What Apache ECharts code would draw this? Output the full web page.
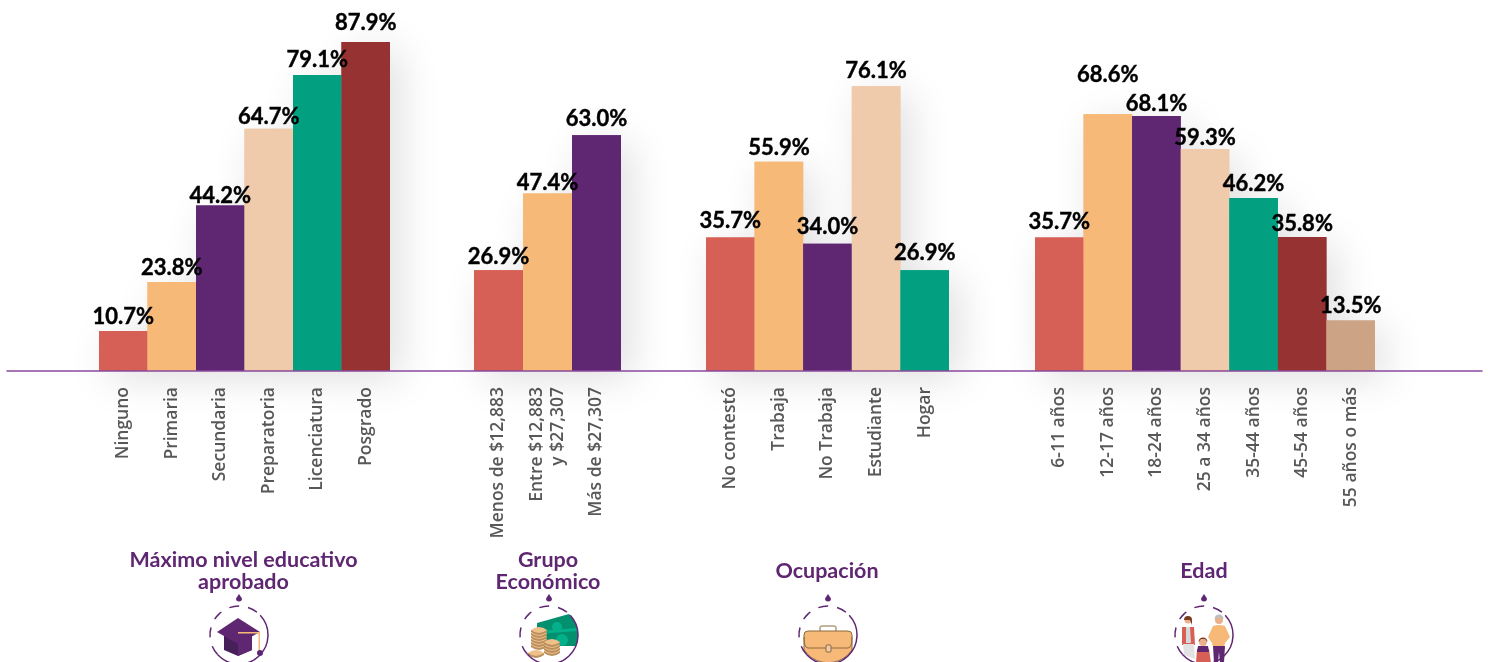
<!DOCTYPE html>
<html>
<head>
<meta charset="utf-8">
<style>
  html, body { margin: 0; padding: 0; background: #fff; }
  #chart { width: 1488px; height: 662px; }
</style>
<script src="https://cdn.jsdelivr.net/npm/echarts@6/dist/echarts.min.js"></script>
</head>
<body>
<div id="chart"></div>
<script>
var eduCats = ['Ninguno', 'Primaria', 'Secundaria', 'Preparatoria', 'Licenciatura', 'Posgrado'];
var eduVals = [10.7, 23.8, 44.2, 64.7, 79.1, 87.9];
var ecoCats = ['Menos de $12,883', 'Entre $12,883\ny $27,307', 'Más de $27,307'];
var ecoVals = [26.9, 47.4, 63.0];
var ocuCats = ['No contestó', 'Trabaja', 'No Trabaja', 'Estudiante', 'Hogar'];
var ocuVals = [35.7, 55.9, 34.0, 76.1, 26.9];
var ageCats = ['6-11 años', '12-17 años', '18-24 años', '25 a 34 años', '35-44 años', '45-54 años', '55 años o más'];
var ageVals = [35.7, 68.6, 68.1, 59.3, 46.2, 35.8, 13.5];

var palette = ['#D65F56', '#F6B977', '#5F2672', '#EFCAAB', '#02A081', '#963232', '#CCA384'];
var purple = '#5F2672';
var font = 'Lato, "Open Sans", sans-serif';
var tickFont = '"Open Sans", Lato, sans-serif';

// x range of each block of bars, nudge = hand moved labels (the original avoids overlaps this way)
var blocks = [
    {cats: eduCats, vals: eduVals, left: 99, right: 390, nudge: [1, 1, 5, 3, 0, -4]},
    {cats: ecoCats, vals: ecoVals, left: 474, right: 621, nudge: [2, 4, -1]},
    {cats: ocuCats, vals: ocuVals, left: 706, right: 949, nudge: [-1, 1, -2, 0, -2]},
    {cats: ageCats, vals: ageVals, left: 1035, right: 1375, nudge: [0, -24, 3, 4, 1, 2, 0]}
];

var grids = [], xAxes = [], yAxes = [], series = [];

blocks.forEach(function (b, i) {
    grids.push({left: b.left, width: b.right - b.left, top: 42, height: 329});
    xAxes.push({
        type: 'category',
        gridIndex: i,
        data: b.cats,
        axisLine: {show: false},
        axisTick: {show: false},
        axisLabel: {
            interval: 0,
            rotate: 90,
            margin: 16,
            fontFamily: tickFont,
            fontSize: 17.5,
            lineHeight: 21,
            fontWeight: 600,
            color: '#58585A'
        }
    });
    yAxes.push({type: 'value', gridIndex: i, min: 0, max: 87.9, show: false, splitLine: {show: false}});
    var shadowData = b.vals.map(function (v, k) {
        return {value: v, itemStyle: {color: palette[k]}};
    });
    var barData = b.vals.map(function (v, k) {
        return {value: v, itemStyle: {color: palette[k]}, label: {offset: [0, b.nudge[k]]}};
    });
    // soft shadow sits in its own series so it never falls on a neighbouring bar
    series.push({
        type: 'bar',
        xAxisIndex: i,
        yAxisIndex: i,
        data: shadowData,
        barWidth: '100%',
        barGap: '-100%',
        z: 1,
        silent: true,
        itemStyle: {shadowColor: 'rgba(0,0,0,0.13)', shadowBlur: 40, shadowOffsetX: 10, shadowOffsetY: 8}
    });
    series.push({
        type: 'bar',
        xAxisIndex: i,
        yAxisIndex: i,
        data: barData,
        barWidth: '100%',
        barGap: '-100%',
        z: 3,
        label: {
            show: true,
            position: 'top',
            distance: 4,
            fontFamily: font,
            fontSize: 22,
            fontWeight: 'bold',
            color: '#000',
            textBorderColor: '#000',
            textBorderWidth: 0.4,
            formatter: function (p) { return p.value.toFixed(1) + '%'; }
        }
    });
});

// full width base line
grids.push({left: 7, right: 6, top: 42, height: 329});
xAxes.push({
    type: 'value',
    gridIndex: 4,
    min: 0,
    max: 1,
    z: 4,
    splitLine: {show: false},
    axisTick: {show: false},
    axisLabel: {show: false},
    axisLine: {show: true, onZero: false, lineStyle: {color: '#8B4A9C', width: 1.5}}
});
yAxes.push({type: 'value', gridIndex: 4, show: false, min: 0, max: 1, splitLine: {show: false}});

function title(text, x, y) {
    return {
        text: text,
        left: x,
        top: y,
        textAlign: 'center',
        padding: 0,
        textStyle: {fontFamily: font, fontSize: 21.5, fontWeight: 'bold', color: purple, lineHeight: 22}
    };
}

// the graphic component has no free path element, so each outline becomes a small shape class
var shapeCount = 0;
function shape(d, fill, stroke) {
    var name = 'iconShape' + (shapeCount++);
    echarts.graphic.registerShape(name, echarts.graphic.extendPath(d));
    return {type: name, style: {fill: fill || 'none', stroke: stroke || 'none', lineWidth: stroke ? 1 : 0}};
}

function ring() {
    var r = 29;
    return [
        {type: 'arc', shape: {cx: 0, cy: 0, r: r, startAngle: -0.75, endAngle: 2.4, clockwise: true},
            style: {fill: 'none', stroke: purple, lineWidth: 1.5}},
        {type: 'arc', shape: {cx: 0, cy: 0, r: r, startAngle: 2.4, endAngle: 5.53, clockwise: true},
            style: {fill: 'none', stroke: purple, lineWidth: 1.5, lineDash: [10, 9]}},
        shape('M0 -41 L3 -36.5 A3 3 0 1 1 -3 -36.5 Z', purple)
    ];
}

function capIcon() {
    return [
        shape('M-15 -1 L-15 15 L-1 21 L13 15 L13 -1 Z', '#47205A'),
        shape('M-1 5 L-1 21 L13 15 L13 -1 Z', '#5F2672'),
        shape('M-1 -17 L-22 -3 L-1 9 L21 -3 Z', '#5F2672'),
        shape('M-1 -3 L21 -3 L21 16 L19.5 16 L19.5 -1.6 L-1 -1.6 Z', '#F6B977'),
        {type: 'circle', shape: {cx: 21, cy: 18, r: 3}, style: {fill: purple}}
    ];
}

function coin(x, y) {
    return [
        shape('M' + (x - 8) + ' ' + (y + 2) + ' Q' + x + ' ' + (y + 8) + ' ' + (x + 8) + ' ' + (y + 2) + ' L' + (x + 8) + ' ' + y + ' L' + (x - 8) + ' ' + y + ' Z', '#B98F5E'),
        shape('M' + (x - 8) + ' ' + y + ' Q' + x + ' ' + (y - 6) + ' ' + (x + 8) + ' ' + y + ' Q' + x + ' ' + (y + 6) + ' ' + (x - 8) + ' ' + y + ' Z', '#EFC08A')
    ];
}

function moneyIcon() {
    var parts = [
        shape('M-12 -12 L20 -21 A29 29 0 0 1 29 0 A29 29 0 0 1 27 11 L-12 11 Z', '#02906F'),
        shape('M-12 -4 L28 -7 L29 -4 L-12 -1 Z', '#04B08A'),
        {type: 'circle', shape: {cx: 8, cy: -8, r: 5}, style: {fill: '#04B08A'}},
        {type: 'circle', shape: {cx: 13, cy: 5, r: 6}, style: {fill: '#04B08A'}}
    ];
    [[-10, 10], [-10, 7], [-10, 4], [-10, 1], [-10, -2], [-10, -5], [3, 16], [3, 13], [3, 10], [3, 7], [-13, 18]].forEach(function (c) {
        parts = parts.concat(coin(c[0], c[1]));
    });
    return parts;
}

function caseIcon() {
    return [
        shape('M-8 -4 L-8 -8 Q-8 -9 -6 -9 L6 -9 Q8 -9 8 -8 L8 -4', 'none', '#8A6A3F'),
        shape('M-24 0 Q-24 -4 -20 -4 L20 -4 Q24 -4 24 0 L24 15 A29 29 0 0 1 -24 15 Z', '#F6B977', '#8A6A3F'),
        shape('M-24 2 Q-24 13 -20 13 L20 13 Q24 13 24 2', 'none', '#8A6A3F'),
        {type: 'rect', shape: {x: -2, y: 10, width: 5, height: 7, r: 1}, style: {fill: '#EFCAAB', stroke: '#8A6A3F', lineWidth: 1}}
    ];
}

function familyIcon() {
    return [
        shape('M-22 -8 L-10 -8 L-9 10 L-22 10 Z', '#D65F56'),
        shape('M-18 -8 L-14 -8 L-13 8 L-18 8 Z', '#D8D8D8'),
        shape('M-21 9 L-10 9 L-9 24 L-20 20 Z', '#E2E2E2'),
        {type: 'circle', shape: {cx: -16, cy: -15, r: 3.5}, style: {fill: '#E9B08B'}},
        shape('M-20 -15 A4 4 0 0 1 -12 -15 L-12 -10 L-14 -15 Z', '#7A3A20'),
        shape('M9 -9 Q15 -11 21 -9 L26 2 L21 8 L20 12 L9 12 L8 8 L4 2 Z', '#F6B977'),
        shape('M9 11 L21 11 L20 28 L16 28 L15 17 L14 28 L10 28 Z', purple),
        {type: 'circle', shape: {cx: 15, cy: -15, r: 4}, style: {fill: '#E9B08B'}},
        shape('M10.5 -16 A4.5 4.5 0 0 1 19.5 -16 L17 -17 L13 -17 Z', '#BDBDBD'),
        shape('M-7 14 L5 14 L7 28 L-8 28 Z', '#D65F56'),
        shape('M-6 11 L4 11 L5 17 L-7 17 Z', purple),
        {type: 'circle', shape: {cx: -1, cy: 7, r: 4}, style: {fill: '#E9B08B'}},
        shape('M-5.5 7 A4.5 4.5 0 0 1 3.5 7 L1 4 L-3 4 Z', '#7A3A20')
    ];
}

function icon(x, draw) {
    return {type: 'group', x: x, y: 635, silent: true, children: draw().concat(ring())};
}

var option = {
    animation: false,
    backgroundColor: '#fff',
    tooltip: {show: false},
    title: [
        title('Máximo nivel educativo\naprobado', 243.5, 549),
        title('Grupo\nEconómico', 548, 549),
        title('Ocupación', 827, 560),
        title('Edad', 1204, 560)
    ],
    grid: grids,
    xAxis: xAxes,
    yAxis: yAxes,
    series: series,
    graphic: [icon(239, capIcon), icon(549, moneyIcon), icon(828, caseIcon), icon(1204, familyIcon)]
};

var chartContainer = echarts.init(document.getElementById('chart'));
chartContainer.setOption(option);
</script>
</body>
</html>
